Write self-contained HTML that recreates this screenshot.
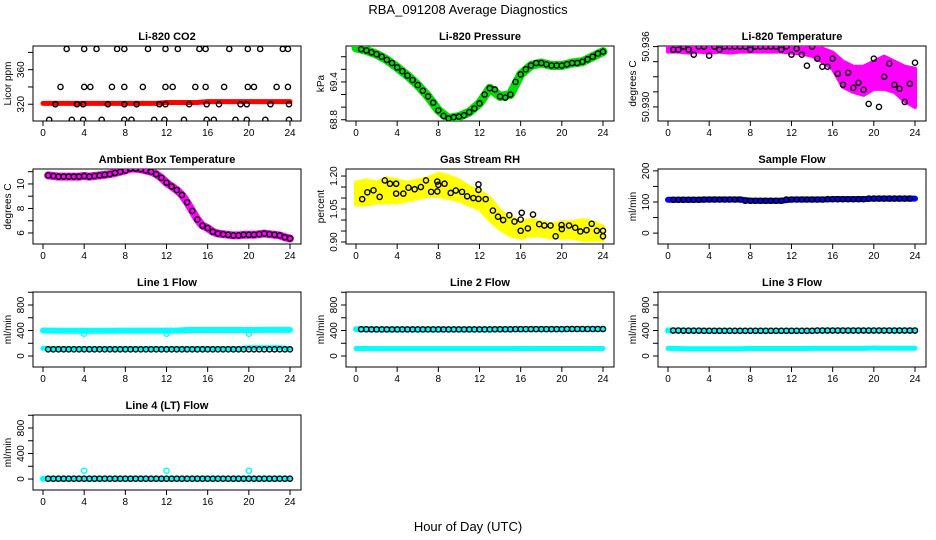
<!DOCTYPE html>
<html><head><meta charset="utf-8"><style>
html,body{margin:0;padding:0;background:#fff;}
svg{display:block;font-family:"Liberation Sans",sans-serif;}
</style></head><body>
<svg id="chart" width="936" height="540" viewBox="0 0 936 540" xmlns="http://www.w3.org/2000/svg">
<rect width="936" height="540" fill="#fff"/>
<text x="468" y="14" text-anchor="middle" font-size="13">RBA_091208  Average Diagnostics</text>
<text x="468" y="531" text-anchor="middle" font-size="13">Hour of Day (UTC)</text>
</svg>
<script>
// ---- data ----
const hours25 = [0,1,2,3,4,5,6,7,8,9,10,11,12,13,14,15,16,17,18,19,20,21,22,23,24];
const hours48 = [0.5,1,1.5,2,2.5,3,3.5,4,4.5,5,5.5,6,6.5,7,7.5,8,8.5,9,9.5,10,10.5,11,11.5,12,12.5,13,13.5,14,14.5,15,15.5,16,16.5,17,17.5,18,18.5,19,19.5,20,20.5,21,21.5,22,22.5,23,23.5,24];
const xTicks = [0,4,8,12,16,20,24];

const co2Band = [321,321,321,321,321,321,321,321,321,321,321,321,322,322,322,322,323,323,323,323,323,323,323,323,323];
const co2Hours = [2.3,4,5.2,7.2,7.9,10.2,11.9,13.1,15.2,15.8,18.1,19.9,21.1,23.3,23.8, 1.7,4,4.6,6.7,7.9,9.7,11.9,12.6,14.8,15.8,17.6,19.9,20.5,22.7,23.8, 1.2,3.3,3.9,6.3,7.9,9.1,11.3,11.9,14.2,15.9,17.1,19.2,19.8,22.1,23.9, 0.6,2.8,3.9,5.7,7.9,8.6,10.8,11.8,13.7,15.9,16.6,18.7,19.8,21.6,23.9];
const co2Vals = [384,384,384,384,384,384,384,384,384,384,384,384,384,384,384, 340,340,340,340,340,340,340,340,340,340,340,340,340,340,340, 320,320,320,320,320,320,320,320,320,320,320,320,320,320,320, 302,302,302,302,302,302,302,302,302,302,302,302,302,302,302];

const presBand = [69.94,69.9,69.84,69.75,69.63,69.5,69.35,69.17,68.95,68.82,68.85,68.92,69.06,69.3,69.17,69.2,69.52,69.66,69.7,69.66,69.66,69.7,69.72,69.8,69.88];
const presBlack = [69.92,69.9,69.87,69.84,69.8,69.75,69.7,69.63,69.57,69.5,69.43,69.35,69.26,69.17,69.07,68.95,68.86,68.82,68.84,68.85,68.87,68.92,68.98,69.06,69.2,69.3,69.28,69.17,69.15,69.2,69.4,69.52,69.6,69.66,69.7,69.7,69.68,69.66,69.66,69.66,69.68,69.7,69.7,69.72,69.76,69.8,69.85,69.88];

const tempHi = [50.9362,50.9362,50.9362,50.9362,50.9362,50.9362,50.9362,50.9362,50.9362,50.9362,50.9362,50.9362,50.9362,50.9362,50.9362,50.9358,50.9354,50.9345,50.934,50.934,50.9345,50.935,50.9345,50.934,50.9338];
const tempLo = [50.9355,50.9355,50.9354,50.9355,50.9354,50.9355,50.9354,50.9355,50.9355,50.9355,50.9355,50.9355,50.9354,50.9353,50.9351,50.9345,50.9338,50.9320,50.9315,50.9312,50.9318,50.9318,50.9315,50.9306,50.9300];
const tempBlack = [50.9357,50.9357,50.936,50.9357,50.9352,50.936,50.936,50.9351,50.936,50.9357,50.936,50.936,50.936,50.936,50.936,50.9357,50.936,50.936,50.936,50.936,50.936,50.9357,50.936,50.9352,50.9358,50.9352,50.9341,50.936,50.9348,50.9340,50.9340,50.9348,50.9333,50.9322,50.9334,50.9319,50.9324,50.9317,50.9303,50.9348,50.9300,50.9330,50.9343,50.9322,50.9318,50.9305,50.9323,50.9344];

const ambient = [10.7,10.65,10.6,10.6,10.6,10.6,10.6,10.65,10.6,10.65,10.7,10.75,10.8,10.9,11.0,11.1,11.25,11.25,11.2,11.1,11.0,10.8,10.5,10.1,9.8,9.5,9.1,8.5,7.8,7.1,6.6,6.4,6.1,5.95,5.9,5.85,5.8,5.8,5.85,5.85,5.85,5.9,5.95,5.9,5.85,5.8,5.65,5.55];

const rhHi = [1.17,1.18,1.17,1.19,1.18,1.17,1.18,1.19,1.21,1.20,1.18,1.15,1.13,1.10,1.04,1.01,0.99,1.00,0.99,0.98,0.99,0.99,1.00,0.99,0.97];
const rhLo = [1.07,1.07,1.08,1.08,1.08,1.09,1.10,1.11,1.11,1.10,1.09,1.07,1.05,1.00,0.96,0.93,0.92,0.93,0.93,0.92,0.92,0.92,0.91,0.91,0.91];
const rhHours = [0.6,1.1,1.7,2.3,2.8,3.3,3.9,3.9,4.6,5.1,5.7,6.3,6.8,7.3,7.9,7.9,8.0,8.6,9.2,9.7,10.3,10.8,11.4,11.9,11.9,11.9,12.6,13.3,13.8,14.3,14.9,15.4,16.0,16.0,16.1,16.7,17.2,17.8,18.3,18.9,19.4,19.97,20.0,20.7,21.3,21.8,22.4,22.9,23.4,24.0,24.0];
const rhVals = [1.095,1.126,1.135,1.105,1.18,1.165,1.165,1.12,1.12,1.147,1.14,1.15,1.18,1.128,1.13,1.175,1.16,1.165,1.123,1.134,1.128,1.108,1.10,1.162,1.137,1.096,1.095,1.043,1.015,1.0,1.022,0.993,1.002,0.951,1.033,0.962,1.025,0.981,0.975,0.975,0.926,0.977,0.959,0.975,0.965,0.948,0.954,0.983,0.951,0.951,0.926];

const sampleFlow = [107,107,107,107,108,108,108,108,104,104,104,104,108,108,108,108,109,109,109,109,111,111,111,111,111];

const l1High = [400,398,396,396,396,396,396,396,398,398,398,398,398,398,408,408,408,408,408,408,408,410,410,410,410];
const l1Low = [120,118,118,118,118,118,118,118,118,118,118,118,118,118,118,118,118,118,118,118,130,130,130,130,118];
const l1Black = [105,105,105,105,105,105,105,105,105,105,105,105,105,105,105,105,105,105,105,105,105,105,105,105,105];
const l1OutH = [4,12,20];
const l1OutV = [350,350,350];

const l2High = [420,420,418,418,418,418,418,418,418,418,418,418,418,418,420,420,422,422,422,422,422,424,424,424,424];
const l2Low = [118,118,116,116,116,116,116,116,116,116,116,116,116,116,116,116,118,118,118,118,118,118,118,118,118];
const l2Black = [420,420,418,418,418,418,418,418,418,418,418,418,418,418,420,420,422,422,422,422,422,424,424,424,424];

const l3High = [400,400,398,398,396,396,396,396,396,396,396,396,396,396,396,400,400,400,400,400,400,400,400,400,400];
const l3Low = [120,118,115,115,115,115,115,115,118,118,118,118,118,118,120,120,120,120,120,120,125,122,122,122,122];
const l3Black = [400,400,398,398,396,396,396,396,396,396,396,396,396,396,396,400,400,400,400,400,400,400,400,400,400];

const l4Band = [5,5,5,5,5,5,5,5,5,5,5,5,5,5,5,5,5,5,5,5,5,5,5,5,5];
const l4Black = [5,5,5,5,5,5,5,5,5,5,5,5,5,5,5,5,5,5,5,5,5,5,5,5,5];
const l4OutH = [4,12,20];
const l4OutV = [130,130,130];

// ---- drawing ----
const NS = "http://www.w3.org/2000/svg";
const svg = document.getElementById('chart');
function el(tag, attrs, parent){
  const e = document.createElementNS(NS, tag);
  for (const k in attrs) e.setAttribute(k, attrs[k]);
  (parent||svg).appendChild(e);
  return e;
}
const colLeft = [33, 346, 658];
const rowTop = [46, 169, 292, 415];
const PW = 268, PH = 75;

function panel(col, row, title, ylab, dmin, dmax, ticks, labels, name){
  const L = colLeft[col], T = rowTop[row];
  const g = el('g', {});
  
  
  const x = h => L + 10 + h * 247 / 24;
  const y = v => T + PH - (v - dmin) / (dmax - dmin) * PH;
  const t = el('text', {x: L + PW/2, y: T - 6, 'text-anchor':'middle', 'font-size':'11', 'font-weight':'bold'}, g);
  t.textContent = title;
  
  
  const box = el('rect', {x: L, y: T, width: PW, height: PH, fill:'none', stroke:'#000', 'stroke-width':1}, g);
  
  
  const xa = el('g', {}, g);
  
  
  xTicks.forEach(h => {
    el('line', {x1:x(h), x2:x(h), y1:T+PH, y2:T+PH+5, stroke:'#000'}, xa);
    const tl = el('text', {x:x(h), y:T+PH+15, 'text-anchor':'middle', 'font-size':'10'}, xa);
    tl.textContent = h;
  });
  const ya = el('g', {}, g);
  
  
  ticks.forEach((v, i) => {
    el('line', {x1:L-5, x2:L, y1:y(v), y2:y(v), stroke:'#000'}, ya);
    if (labels[i]) {
      const tl = el('text', {x:L-9, y:y(v), 'text-anchor':'middle', 'font-size':'10', transform:`rotate(-90 ${L-9} ${y(v)})`}, ya);
      tl.textContent = labels[i];
    }
  });
  const yl = el('text', {x:L-22, y:T+PH/2, 'text-anchor':'middle', 'font-size':'10', transform:`rotate(-90 ${L-22} ${T+PH/2})`}, g);
  yl.textContent = ylab;
  
  
  const clip = 'c' + name;
  const cp = el('clipPath', {id: clip}, g);
  el('rect', {x:L, y:T, width:PW, height:PH}, cp);
  const data = el('g', {'clip-path': `url(#${clip})`}, g);
  return {x, y, g: data};
}
function band(p, hs, vs, color, w, nm){
  const pl = el('polyline', {points: hs.map((h,i)=>p.x(h)+','+p.y(vs[i])).join(' '), fill:'none', stroke:color, 'stroke-width':w, 'stroke-linejoin':'round', 'stroke-linecap':'round'}, p.g);
  
  
}
function area(p, hs, hi, lo, color, nm){
  const pts = hs.map((h,i)=>p.x(h)+','+p.y(hi[i])).concat(hs.slice().reverse().map((h,j)=>p.x(h)+','+p.y(lo[hs.length-1-j])));
  const pg = el('polygon', {points: pts.join(' '), fill:color, stroke:color, 'stroke-width':4, 'stroke-linejoin':'round'}, p.g);
  
  
}
function pts(p, hs, vs, color, nm, r){
  hs.forEach((h,i)=>{
    const c = el('circle', {cx:p.x(h), cy:p.y(vs[i]), r:r||2.6, fill:'none', stroke:color, 'stroke-width':1.4}, p.g);
    
    
  });
}

// CO2
let p = panel(0,0,'Li-820 CO2','Licor ppm',300.6,387.4,[320,340,360,380],['320','','360',''],'co2');
band(p, hours25, co2Band, '#ff0000', 5, 'co2-band');
pts(p, co2Hours, co2Vals, '#000', 'co2-point');

// Pressure
p = panel(1,0,'Li-820 Pressure','kPa',68.78,69.97,[68.8,69.0,69.2,69.4,69.6,69.8],['68.8','','','69.4','',''],'pressure');
band(p, hours25, presBand, '#00dd00', 9, 'pressure-band');
pts(p, hours48, presBlack, '#000', 'pressure-point');

// Li-820 temperature
p = panel(2,0,'Li-820 Temperature','degrees C',50.9286,50.93606,[50.930,50.9315,50.933,50.9345,50.936],['50.930','','','','50.936'],'li820-temp');
area(p, hours25, tempHi, tempLo, '#ff00ff', 'li820-temp-band');
pts(p, hours48, tempBlack, '#000', 'li820-temp-point');

// Ambient
p = panel(0,1,'Ambient Box Temperature','degrees C',5.10,11.22,[6,7,8,9,10,11],['6','','8','','10',''],'ambient');
band(p, hours48, ambient, '#ff00ff', 8, 'ambient-band');
pts(p, hours48, ambient, '#000', 'ambient-point');

// RH
p = panel(1,1,'Gas Stream RH','percent',0.891,1.232,[0.90,0.95,1.00,1.05,1.10,1.15,1.20],['0.90','','','1.05','','','1.20'],'rh');
area(p, hours25, rhHi, rhLo, '#ffff00', 'rh-band');
pts(p, rhHours, rhVals, '#000', 'rh-point');

// Sample flow
p = panel(2,1,'Sample Flow','ml/min',-35,206,[0,50,100,150,200],['0','','100','','200'],'sample-flow');
band(p, hours25, sampleFlow, '#0000ff', 6, 'sample-flow-band');
pts(p, hours48.slice(0,47), hours48.slice(0,47).map(h=>sampleFlow[Math.round(h)]), '#000', 'sample-flow-point');

const fT = [0,200,400,600,800,1000], fL = ['0','','400','','800',''];
// Line 1
p = panel(0,2,'Line 1 Flow','ml/min',-172,1004,fT,fL,'line1');
band(p, hours25, l1High, '#00ffff', 6, 'line1-high-band');
band(p, hours25, l1Low, '#00ffff', 5, 'line1-low-band');
pts(p, l1OutH, l1OutV, '#00ffff', 'line1-outlier');
pts(p, hours25.slice(1).map(h=>h-0.5).concat(hours25.slice(1)), l1Black.slice(1).concat(l1Black.slice(1)), '#000', 'line1-point');

// Line 2
p = panel(1,2,'Line 2 Flow','ml/min',-172,1004,fT,fL,'line2');
band(p, hours25, l2High, '#00ffff', 6, 'line2-high-band');
band(p, hours25, l2Low, '#00ffff', 5, 'line2-low-band');
pts(p, hours25.slice(1).map(h=>h-0.5).concat(hours25.slice(1)), l2Black.slice(1).concat(l2Black.slice(1)), '#000', 'line2-point');

// Line 3
p = panel(2,2,'Line 3 Flow','ml/min',-172,1004,fT,fL,'line3');
band(p, hours25, l3High, '#00ffff', 6, 'line3-high-band');
band(p, hours25, l3Low, '#00ffff', 5, 'line3-low-band');
pts(p, hours25.slice(1).map(h=>h-0.5).concat(hours25.slice(1)), l3Black.slice(1).concat(l3Black.slice(1)), '#000', 'line3-point');

// Line 4
p = panel(0,3,'Line 4 (LT) Flow','ml/min',-172,1004,fT,fL,'line4');
band(p, hours25, l4Band, '#00ffff', 6, 'line4-band');
pts(p, l4OutH, l4OutV, '#00ffff', 'line4-outlier');
pts(p, hours25.slice(1).map(h=>h-0.5).concat(hours25.slice(1)), l4Black.slice(1).concat(l4Black.slice(1)), '#000', 'line4-point');
</script>
</body></html>
